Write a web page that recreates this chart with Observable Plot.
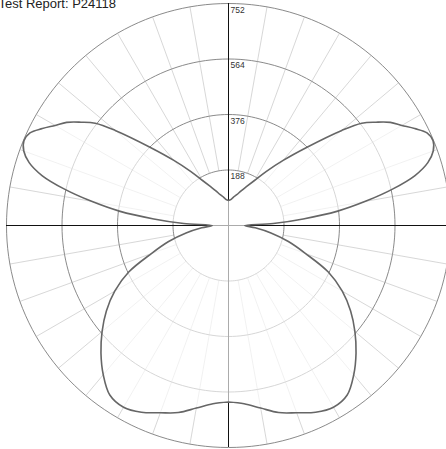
<!DOCTYPE html>
<html><head><meta charset="utf-8">
<script src="https://cdn.jsdelivr.net/npm/d3@7"></script>
<script src="https://cdn.jsdelivr.net/npm/@observablehq/plot@0.6"></script>
<style>html,body{margin:0;padding:0;background:#fff;overflow:hidden}</style>
</head><body><div id="chart"></div>
<script>
const title = "Test Report: P24118";
const ringValues = [188, 376, 564, 752];
const spokeAngles = d3.range(0, 360, 10);
// gamma angle (0 = downward / nadir, 180 = upward)
const gammaAngles = [0,5,10,15,20,25,30,35,40,45,50,55,60,65,70,75,80,85,90,
  92.5,95,97.5,100,102.5,105,107.5,110,112.5,115,117.5,120,122.5,125,127.5,130,
  135,140,145,150,155,160,165,170,175,180];
const intensity = [598,606,628,656,675,698,711,701,660,611,559,505,445,373,278,210,146,91,55,
  152,254,373,471,569,654,708,738,750,742,711,678,650,610,569,501,
  374,288,224,176,146,125,108,98,88,85];

const rad = Math.PI / 180;
const outer = ringValues[ringValues.length - 1];
const inner = ringValues[0];
const K = outer / 222;

const curvePts = [
  ...gammaAngles.map((g, i) => ({x: -intensity[i] * Math.sin(g * rad), y: -intensity[i] * Math.cos(g * rad)})),
  ...gammaAngles.map((g, i) => ({x: intensity[i] * Math.sin(g * rad), y: -intensity[i] * Math.cos(g * rad)})).reverse()
];
const ringPts = ringValues.flatMap(r => d3.range(0, 361, 2).map(a => ({ring: r, x: r * Math.sin(a * rad), y: r * Math.cos(a * rad)})));
const spokes = spokeAngles.map(a => ({
  x1: inner * Math.sin(a * rad), y1: inner * Math.cos(a * rad),
  x2: outer * Math.sin(a * rad), y2: outer * Math.cos(a * rad)
}));

const chart = Plot.plot({
  width: 446, height: 449, margin: 0,
  style: {fontFamily: "'Liberation Sans', Arial, sans-serif", background: "#fff"},
  x: {domain: [-228 * K, 218 * K], axis: null},
  y: {domain: [-224 * K, 225 * K], axis: null},
  marks: [
    Plot.link(spokes, {x1: "x1", y1: "y1", x2: "x2", y2: "y2", stroke: "#cdcdcd", strokeWidth: 0.8}),
    Plot.line(ringPts, {x: "x", y: "y", z: "ring", stroke: "#7d7d7d", strokeWidth: 0.9}),
    Plot.ruleY([0], {x1: -outer, x2: outer, stroke: "#111", strokeWidth: 1}),
    Plot.ruleX([0], {y1: -outer, y2: outer, stroke: "#111", strokeWidth: 1}),
    Plot.line(curvePts, {x: "x", y: "y", curve: "catmull-rom", fill: "white", fillOpacity: 0.65, stroke: "#666", strokeWidth: 1.6}),
    Plot.text(ringValues, {x: d => 0, y: d => d, text: d => String(d), textAnchor: "start", lineAnchor: "top", dx: 2, dy: 3, fontSize: 8.5, fill: "#333"}),
    Plot.text([title], {frameAnchor: "top-left", text: d => d, textAnchor: "start", lineAnchor: "top", dx: -2, dy: -2, fontSize: 13, fill: "#222"})
  ]
});
document.getElementById("chart").append(chart);
</script>
</body></html>
